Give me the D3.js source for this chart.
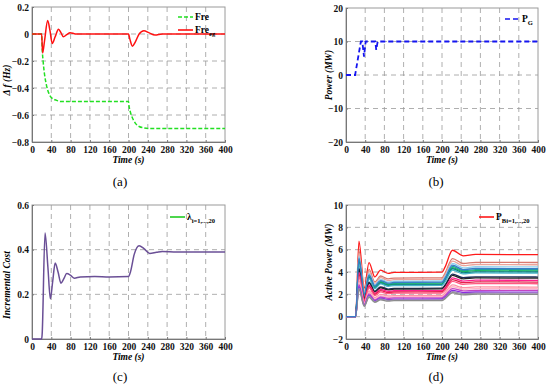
<!DOCTYPE html>
<html>
<head>
<meta charset="utf-8">
<script src="https://cdn.jsdelivr.net/npm/d3@7"></script>
<style>
  body { margin: 0; background: #fff; }
  svg { display: block; }
</style>
</head>
<body>
<div id="chart"></div>
<script>
// Time ticks shared by all four panels
const timeTicks = [0, 40, 80, 120, 160, 200, 240, 280, 320, 360, 400];

// (a) frequency deviation
const freTime = [0, 20, 21, 23, 26, 30, 35, 40, 50, 60, 80, 200, 201, 204, 208, 214, 222, 232, 245, 400];
const freValues = [0, 0, -0.1, -0.2, -0.3, -0.38, -0.44, -0.47, -0.49, -0.5, -0.5, -0.5, -0.53, -0.58, -0.62, -0.66, -0.685, -0.695, -0.7, -0.7];
const fregTime = [0, 20, 22, 26, 32.5, 37, 42, 48, 55, 60, 65, 72, 79, 90, 100, 200, 203, 208, 214, 222, 232, 242, 255, 270, 400];
const fregValues = [0, 0, -0.14, -0.05, 0.1, 0.03, -0.07, -0.02, 0.036, 0.01, -0.02, -0.005, 0.01, 0, 0, 0, -0.04, -0.09, -0.06, 0, 0.025, 0.01, -0.008, 0, 0];
const ticksA = [-0.8, -0.6, -0.4, -0.2, 0, 0.2];

// (b) generator power
const pgTime = [0, 19, 31, 34, 37.5, 41, 61, 63, 66, 400];
const pgValues = [0, 0, 10, 10, 5.5, 10, 10, 7.5, 10, 10];
const ticksB = [-20, -10, 0, 10, 20];

// (c) incremental cost
const lambdaTime = [0, 20, 21, 27, 33, 38, 43, 48, 54, 60, 66, 72, 80, 88, 100, 130, 160, 200, 204, 212, 222, 232, 244, 258, 270, 300, 400];
const lambdaValues = [0, 0, 0.02, 0.475, 0.32, 0.18, 0.26, 0.34, 0.3, 0.25, 0.27, 0.293, 0.285, 0.272, 0.278, 0.28, 0.278, 0.28, 0.3, 0.38, 0.418, 0.405, 0.383, 0.388, 0.392, 0.39, 0.39];
const ticksC = [0, 0.2, 0.4, 0.6];

// (d) active power of the 20 units
const unitTime = [0, 20, 27, 38, 48, 60, 72, 88, 100, 200, 206, 222, 244, 270, 400];
const unitColors = ["#ff1a1a", "#d9786e", "#eaa59c", "#8fd0ee", "#1f9e9e", "#18b860", "#0b7c7c", "#45b5c8",
  "#1c2d5c", "#242424", "#ff1f8f", "#e3244c", "#ff5a82", "#ff93a6", "#ffb6c6", "#c445c4",
  "#8a2be2", "#9a88b8", "#8c8c8c", "#3a7dc9"];
const unitValues = [
  [0, 0, 6.76, 2.56, 4.84, 3.56, 4.17, 3.87, 3.96, 3.98, 4.41, 5.95, 5.45, 5.58, 5.55],
  [0, 0, 5.91, 2.24, 4.23, 3.11, 3.64, 3.38, 3.46, 3.48, 3.86, 5.2, 4.76, 4.87, 4.85],
  [0, 0, 5.66, 2.15, 4.05, 2.98, 3.49, 3.24, 3.32, 3.34, 3.7, 4.98, 4.57, 4.67, 4.65],
  [0, 0, 5.42, 2.06, 3.88, 2.85, 3.34, 3.1, 3.17, 3.2, 3.54, 4.77, 4.37, 4.47, 4.45],
  [0, 0, 5.12, 1.94, 3.66, 2.69, 3.15, 2.93, 2.99, 3.02, 3.34, 4.5, 4.12, 4.22, 4.2],
  [0, 0, 4.99, 1.89, 3.58, 2.63, 3.08, 2.86, 2.92, 2.94, 3.26, 4.4, 4.03, 4.12, 4.1],
  [0, 0, 4.87, 1.85, 3.49, 2.56, 3.0, 2.79, 2.85, 2.87, 3.18, 4.29, 3.93, 4.02, 4.0],
  [0, 0, 4.75, 1.8, 3.4, 2.5, 2.93, 2.72, 2.78, 2.8, 3.1, 4.18, 3.83, 3.92, 3.9],
  [0, 0, 4.32, 1.64, 3.1, 2.28, 2.67, 2.47, 2.53, 2.55, 2.82, 3.81, 3.49, 3.57, 3.55],
  [0, 0, 4.2, 1.59, 3.01, 2.21, 2.59, 2.4, 2.46, 2.48, 2.74, 3.7, 3.39, 3.47, 3.45],
  [0, 0, 3.96, 1.5, 2.83, 2.08, 2.44, 2.27, 2.32, 2.33, 2.58, 3.48, 3.19, 3.27, 3.25],
  [0, 0, 3.78, 1.43, 2.7, 1.99, 2.33, 2.16, 2.21, 2.23, 2.46, 3.32, 3.04, 3.12, 3.1],
  [0, 0, 3.59, 1.36, 2.57, 1.89, 2.22, 2.06, 2.1, 2.12, 2.35, 3.16, 2.9, 2.96, 2.95],
  [0, 0, 3.23, 1.22, 2.31, 1.7, 1.99, 1.85, 1.89, 1.9, 2.11, 2.84, 2.6, 2.66, 2.65],
  [0, 0, 3.05, 1.16, 2.18, 1.6, 1.88, 1.74, 1.78, 1.8, 1.99, 2.68, 2.46, 2.51, 2.5],
  [0, 0, 2.86, 1.09, 2.05, 1.51, 1.76, 1.64, 1.68, 1.69, 1.87, 2.52, 2.31, 2.36, 2.35],
  [0, 0, 2.68, 1.02, 1.92, 1.41, 1.65, 1.53, 1.57, 1.58, 1.75, 2.36, 2.16, 2.21, 2.2],
  [0, 0, 2.56, 0.97, 1.83, 1.35, 1.58, 1.46, 1.5, 1.51, 1.67, 2.25, 2.06, 2.11, 2.1],
  [0, 0, 2.44, 0.92, 1.74, 1.28, 1.5, 1.39, 1.43, 1.44, 1.59, 2.14, 1.96, 2.01, 2.0],
  [0, 0, 5.24, 1.99, 3.75, 2.76, 3.23, 3.0, 3.07, 3.09, 3.42, 4.61, 4.22, 4.32, 4.3]
];
const ticksD = [-2, 0, 2, 4, 6, 8, 10];

const serif = "'Liberation Serif', 'Times New Roman', serif";

const svg = d3.select("#chart")
  .append("svg")
    .attr("width", 550)
    .attr("height", 390);

// Draw one panel: frame, grid, axes, labels; returns scales
function drawPanel(p) {
  const x = d3.scaleLinear().domain([0, 400]).range([p.left, p.right]);
  const y = d3.scaleLinear().domain(p.yDomain).range([p.bottom, p.top]);
  const g = svg.append("g");

  // dashed grid
  g.selectAll(".vgrid")
    .data(timeTicks.slice(1, -1))
    .join("line")
      .attr("x1", d => x(d)).attr("x2", d => x(d))
      .attr("y1", p.top).attr("y2", p.bottom)
      .attr("stroke", "#9a9a9a")
      .attr("stroke-width", 0.8)
      .attr("stroke-dasharray", "5,4");
  g.selectAll(".hgrid")
    .data(p.yTicks.slice(1, -1))
    .join("line")
      .attr("x1", p.left).attr("x2", p.right)
      .attr("y1", d => y(d)).attr("y2", d => y(d))
      .attr("stroke", "#9a9a9a")
      .attr("stroke-width", 0.8)
      .attr("stroke-dasharray", "5,4");

  // frame
  g.append("rect")
    .attr("x", p.left).attr("y", p.top)
    .attr("width", p.right - p.left).attr("height", p.bottom - p.top)
    .attr("fill", "none")
    .attr("stroke", "#9a9a9a");

  // axes
  const xAxis = g.append("g")
    .attr("transform", `translate(0,${p.bottom})`)
    .call(d3.axisBottom(x).tickValues(timeTicks).tickSize(-2).tickPadding(4).tickFormat(d3.format("d")));
  const yAxis = g.append("g")
    .attr("transform", `translate(${p.left},0)`)
    .call(d3.axisLeft(y).tickValues(p.yTicks).tickSize(-2).tickPadding(3).tickFormat(p.fmt));
  [xAxis, yAxis].forEach(a => {
    a.select(".domain").attr("stroke", "#777");
    a.selectAll(".tick line").attr("stroke", "#777");
    a.selectAll("text")
      .style("font-family", serif)
      .style("font-size", "9.5px")
      .style("font-weight", "bold")
      .attr("fill", "#111");
  });

  // axis titles
  g.append("text")
    .text("Time (s)")
    .attr("x", (p.left + p.right) / 2)
    .attr("y", p.bottom + 21)
    .attr("text-anchor", "middle")
    .style("font-family", serif)
    .style("font-size", "9.5px")
    .style("font-weight", "bold")
    .style("font-style", "italic");
  g.append("text")
    .text(p.yTitle)
    .attr("transform", `translate(${p.yTitleX},${p.yTitleY}) rotate(-90)`)
    .attr("text-anchor", "middle")
    .style("font-family", serif)
    .style("font-size", "9.5px")
    .style("font-weight", "bold")
    .style("font-style", "italic");

  // sub caption
  g.append("text")
    .text(p.caption)
    .attr("x", p.capX)
    .attr("y", p.capY)
    .attr("text-anchor", "middle")
    .style("font-family", serif)
    .style("font-size", "13px");

  return { x, y, g };
}

function legendItem(g, x1, y, color, dash, main, sub) {
  g.append("line")
    .attr("x1", x1).attr("x2", x1 + 15)
    .attr("y1", y).attr("y2", y)
    .attr("stroke", color)
    .attr("stroke-width", 1.6)
    .attr("stroke-dasharray", dash);
  const t = g.append("text")
    .attr("x", x1 + 17)
    .attr("y", y + 3)
    .style("font-family", serif)
    .style("font-size", "9.5px")
    .style("font-weight", "bold");
  t.append("tspan").text(main);
  if (sub) {
    t.append("tspan").text(sub)
      .attr("dy", 3)
      .style("font-size", "6.5px");
  }
}

const fmtDec = d => d === 0 ? "0" : d3.format(".1f")(d);
const fmtInt = d3.format("d");

// Panel (a)
const A = drawPanel({ left: 32, right: 225, top: 7, bottom: 142, yDomain: [-0.8, 0.2], yTicks: ticksA, fmt: fmtDec,
  yTitle: "Δ f (Hz)", yTitleX: 10, yTitleY: 80, caption: "(a)", capX: 120, capY: 186 });
const lineA = d3.line().curve(d3.curveMonotoneX);
A.g.append("path")
  .attr("d", lineA(freTime.map((t, i) => [A.x(t), A.y(freValues[i])])))
  .attr("fill", "none")
  .attr("stroke", "#22e022")
  .attr("stroke-width", 1.5)
  .attr("stroke-dasharray", "4,2");
A.g.append("path")
  .attr("d", lineA(fregTime.map((t, i) => [A.x(t), A.y(fregValues[i])])))
  .attr("fill", "none")
  .attr("stroke", "#ff1010")
  .attr("stroke-width", 1.5);
legendItem(A.g, 178, 17, "#22e022", "4,2", "Fre", null);
legendItem(A.g, 178, 30, "#ff1010", null, "Fre", "eg");

// Panel (b)
const B = drawPanel({ left: 346, right: 538, top: 8, bottom: 142, yDomain: [-20, 20], yTicks: ticksB, fmt: fmtInt,
  yTitle: "Power (MW)", yTitleX: 332, yTitleY: 75, caption: "(b)", capX: 436, capY: 186 });
B.g.append("path")
  .attr("d", d3.line()(pgTime.map((t, i) => [B.x(t), B.y(pgValues[i])])))
  .attr("fill", "none")
  .attr("stroke", "#1515f0")
  .attr("stroke-width", 1.8)
  .attr("stroke-dasharray", "5,3");
legendItem(B.g, 505, 19, "#1515f0", "5,3", "P", "G");

// Panel (c)
const C = drawPanel({ left: 32, right: 225, top: 205, bottom: 339, yDomain: [0, 0.6], yTicks: ticksC, fmt: fmtDec,
  yTitle: "Incremental Cost", yTitleX: 10, yTitleY: 285, caption: "(c)", capX: 120, capY: 381 });
C.g.append("path")
  .attr("d", d3.line().curve(d3.curveMonotoneX)(lambdaTime.map((t, i) => [C.x(t), C.y(lambdaValues[i])])))
  .attr("fill", "none")
  .attr("stroke", "#6a4f96")
  .attr("stroke-width", 1.5);
legendItem(C.g, 170, 217, "#22cc22", null, "λ", "i=1,...,20");

// Panel (d)
const D = drawPanel({ left: 346, right: 538, top: 205, bottom: 339, yDomain: [-2, 10], yTicks: ticksD, fmt: fmtInt,
  yTitle: "Active Power (MW)", yTitleX: 332, yTitleY: 262, caption: "(d)", capX: 436, capY: 381 });
const lineD = d3.line().curve(d3.curveMonotoneX);
D.g.selectAll(".unit")
  .data(unitValues)
  .join("path")
    .attr("d", vals => lineD(unitTime.map((t, i) => [D.x(t), D.y(vals[i])])))
    .attr("fill", "none")
    .attr("stroke", (vals, i) => unitColors[i])
    .attr("stroke-width", 1.3);
legendItem(D.g, 479, 217, "#ff1a1a", null, "P", "Bi=1,...,20");
</script>
</body>
</html>
